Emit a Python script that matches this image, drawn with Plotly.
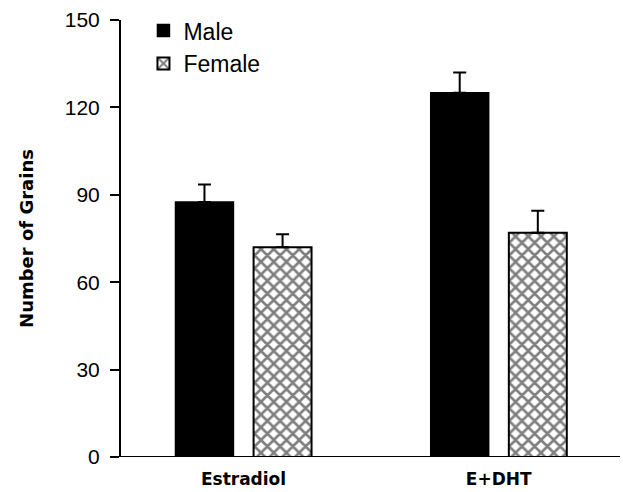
import plotly.graph_objects as go

categories = ["Estradiol", "E+DHT"]
male = [87.5, 125]
male_err = [6, 7]
female = [72, 77]
female_err = [4.5, 7.5]
y_ticks = [0, 30, 60, 90, 120, 150]

fig = go.Figure()
fig.add_trace(go.Bar(
    x=categories, y=male, name="Male",
    marker=dict(color="black", line=dict(color="black", width=1.5)),
    error_y=dict(type="data", array=male_err, arrayminus=[0, 0], symmetric=False,
                 color="black", thickness=2, width=6.5),
))
fig.add_trace(go.Bar(
    x=categories, y=female, name="Female",
    marker=dict(color="white", line=dict(color="black", width=2),
                pattern=dict(shape="x", fgcolor="black", bgcolor="white", size=9, solidity=0.5)),
    error_y=dict(type="data", array=female_err, arrayminus=[0, 0], symmetric=False,
                 color="black", thickness=2, width=6.5),
))

fig.update_layout(
    width=623, height=492,
    margin=dict(l=121, r=3, t=20, b=35),
    paper_bgcolor="white", plot_bgcolor="white",
    barmode="group", bargap=0.388, bargroupgap=0.258,
    font=dict(family="Liberation Sans, Arial, sans-serif", color="black"),
    showlegend=True,
    legend=dict(x=0.045, y=1.025, xanchor="left", yanchor="top",
                font=dict(size=23, color="black"), bgcolor="rgba(0,0,0,0)",
                itemwidth=30, tracegroupgap=0),
    xaxis=dict(range=[-0.48, 1.475], showline=False, ticks="", showgrid=False,
               tickfont=dict(size=17, family="DejaVu Sans", weight="bold"),
               ticklabelstandoff=10, zeroline=False),
    yaxis=dict(range=[0, 150], tickvals=y_ticks, ticks="outside", ticklen=9,
               tickwidth=2, tickcolor="black", showline=True, linecolor="black",
               linewidth=2, showgrid=False, zeroline=False, tickfont=dict(size=21),
               ticklabelstandoff=6,
               title=dict(text="<b>Number of Grains</b>",
                          font=dict(size=18, family="DejaVu Sans"), standoff=26)),
)
fig.add_hline(y=0, line=dict(color="black", width=2), layer="above")

fig.write_html("out.html")
